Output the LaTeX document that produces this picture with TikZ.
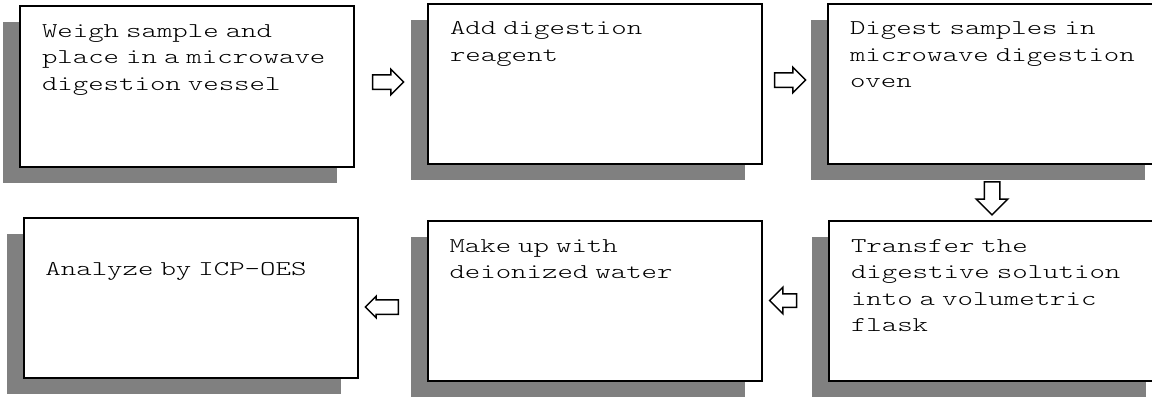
\documentclass[tikz,border=0pt]{standalone}
\usepackage{fontspec}
\newfontfamily\stepfont{lmmonolt10-regular.otf}[FakeStretch=1.4]
\usetikzlibrary{shapes.arrows,shadows}
\begin{document}
\begin{tikzpicture}[x=0.5pt,y=-0.5pt,
        stepbox/.style={draw,line width=1pt,fill=white,minimum width=167pt,minimum height=80pt,
            text width=145pt,align=left,inner xsep=11pt,inner ysep=0pt,
            text height=15.5pt,text depth=64.5pt,
            font=\stepfont\fontsize{10.5}{13.25}\selectfont,
            drop shadow={shadow xshift=-8.5pt,shadow yshift=-8pt,fill=black!50,opacity=1}},
        blockarrow/.style={draw,line width=0.75pt,single arrow,fill=white,inner sep=3.25pt,
            minimum height=15.5pt,single arrow head extend=2.75pt}]
    \clip (0,0) rectangle (1152,397);
    % top row
    \node[stepbox,minimum height=80.5pt,text depth=65pt] (weigh) at (187,86.5) {Weigh sample and\\place in a microwave\\digestion vessel};
    \node[stepbox] (reagent) at (595,83.5) {Add digestion\\reagent};
    \node[stepbox] (digest) at (995,83.5) {Digest samples in\\microwave digestion\\oven};
    % bottom row
    \node[stepbox] (transfer) at (996,301) {Transfer the\\digestive solution\\into a volumetric\\flask};
    \node[stepbox] (makeup) at (594.5,301) {Make up with\\deionized water};
    \node[stepbox,text height=28.5pt,text depth=51.5pt] (analyze) at (190.5,298) {Analyze by ICP-OES};
    % arrows
    \node[blockarrow] (a1) at (384.5,82) {};
    \node[blockarrow] (a2) at (786.5,80) {};
    \node[blockarrow,shape border rotate=270,inner sep=3.5pt,single arrow head extend=4pt,minimum height=16.5pt] (a3) at (992,194.5) {};
    \node[blockarrow,shape border rotate=180,inner sep=3pt,single arrow head extend=3.25pt,minimum height=13.5pt] (a4) at (786.5,300.5) {};
    \node[blockarrow,shape border rotate=180,single arrow head extend=1.75pt,minimum height=16.5pt] (a5) at (385.5,307) {};
\end{tikzpicture}
\end{document}
